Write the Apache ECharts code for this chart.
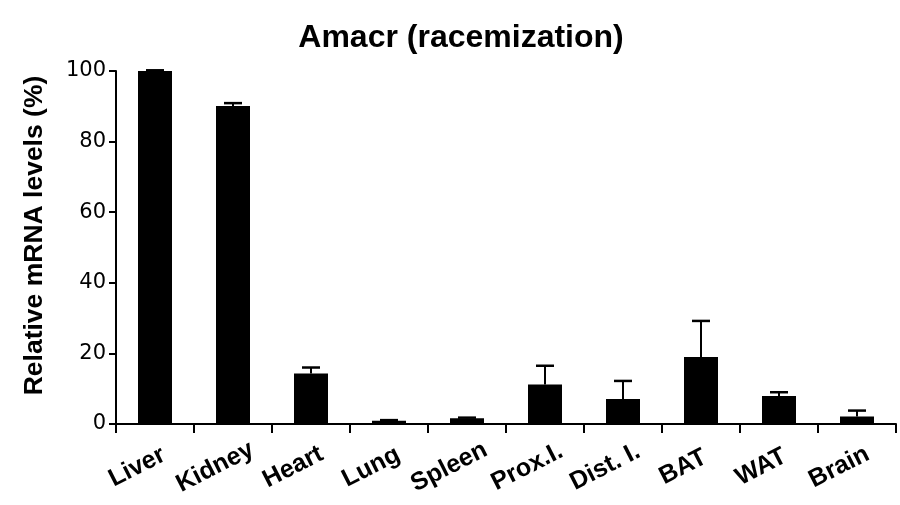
<!DOCTYPE html>
<html>
<head>
<meta charset="utf-8">
<script src="https://cdn.jsdelivr.net/npm/echarts@6/dist/echarts.min.js"></script>
<style>html,body{margin:0;padding:0;background:#fff}#c{width:900px;height:505px}</style>
</head>
<body>
<div id="c"></div>
<script>
const categories = ['Liver', 'Kidney', 'Heart', 'Lung', 'Spleen', 'Prox.I.', 'Dist. I.', 'BAT', 'WAT', 'Brain'];
const means = [100, 90.1, 14.3, 0.9, 1.6, 11.2, 7.1, 19.0, 7.9, 2.1];
const errors = [0.2, 0.8, 1.7, 0.2, 0.2, 5.3, 5.1, 10.2, 1.1, 1.7];
const yTicks = [0, 20, 40, 60, 80, 100];

const chart = echarts.init(document.getElementById('c'), null, {renderer: 'canvas'});
const errData = categories.map((c, i) => [i, means[i], means[i] + errors[i]]);

chart.setOption({
  animation: false,
  backgroundColor: '#fff',
  title: {
    text: 'Amacr (racemization)',
    left: 456, top: 17, textAlign: 'center',
    textStyle: {fontFamily: 'Liberation Sans', fontWeight: 'bold', fontSize: 32, color: '#000'}
  },
  grid: {left: 116, right: 4, top: 71, bottom: 81},
  xAxis: {
    type: 'category',
    data: categories,
    boundaryGap: true,
    axisLine: {lineStyle: {color: '#000', width: 2}},
    axisTick: {show: true, inside: false, length: 9, lineStyle: {color: '#000', width: 2}, alignWithLabel: false},
    axisLabel: {
      rotate: 27, margin: 34, interval: 0, align: 'center', verticalAlign: 'middle',
      padding: [0, 40, 0, 0],
      fontFamily: 'Liberation Sans', fontWeight: 'bold', fontSize: 25, color: '#000'
    }
  },
  yAxis: {
    type: 'value', min: yTicks[0], max: yTicks[yTicks.length - 1], interval: 20,
    name: 'Relative mRNA levels (%)',
    nameLocation: 'middle', nameGap: 68, nameRotate: 90,
    nameTextStyle: {fontFamily: 'Liberation Sans', fontWeight: 'bold', fontSize: 26.5, color: '#000', padding: [0, 0, 0, 24]},
    axisLine: {show: true, lineStyle: {color: '#000', width: 2}},
    axisTick: {show: true, length: 7, lineStyle: {color: '#000', width: 2}},
    axisLabel: {fontFamily: 'DejaVu Sans', fontSize: 21, color: '#000', margin: 10},
    splitLine: {show: false}
  },
  series: [
    {
      type: 'bar', data: means, barWidth: 34,
      itemStyle: {color: '#000'}, z: 2
    },
    {
      type: 'custom', data: errData, z: 3,
      renderItem: function (params, api) {
        const x = api.value(0);
        const p0 = api.coord([x, api.value(1)]);
        const p1 = api.coord([x, api.value(2)]);
        const hw = 9;
        return {
          type: 'group',
          children: [
            {type: 'line', shape: {x1: p0[0], y1: p0[1], x2: p1[0], y2: p1[1]}, style: {stroke: '#000', lineWidth: 2}},
            {type: 'line', shape: {x1: p1[0] - hw, y1: p1[1], x2: p1[0] + hw, y2: p1[1]}, style: {stroke: '#000', lineWidth: 2.5}}
          ]
        };
      }
    }
  ]
});
</script>
</body>
</html>
